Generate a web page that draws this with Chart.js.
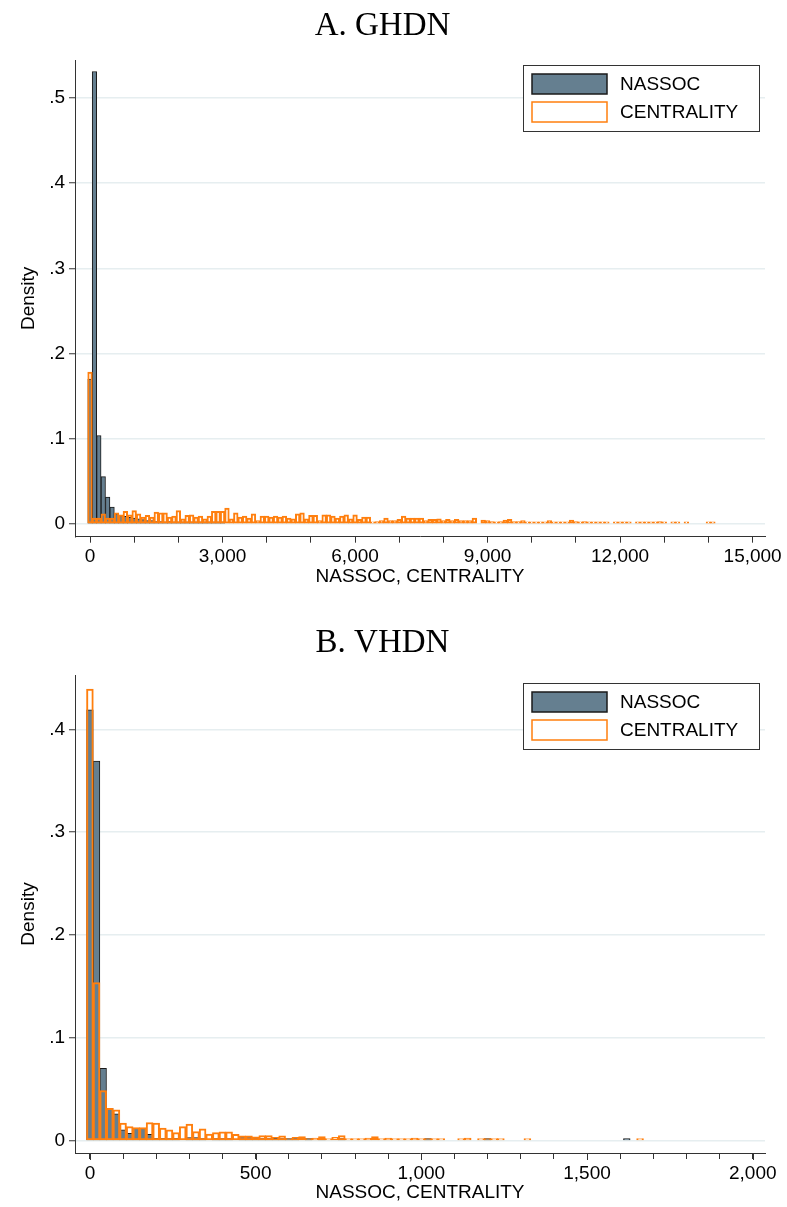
<!DOCTYPE html>
<html>
<head>
<meta charset="utf-8">
<script src="https://cdn.jsdelivr.net/npm/chart.js@4.4.1/dist/chart.umd.min.js"></script>
<style>
  body { margin: 0; background: #fff; }
  canvas { display: block; }
</style>
</head>
<body>
<canvas id="chartA" width="787" height="591"></canvas>
<canvas id="chartB" width="787" height="616"></canvas>
<script>
// Panel A (GHDN): bins of 100, first bin centred on 0
const ghdnBinWidth = 100;
const ghdnNassoc = [
  0.17, 0.531, 0.1038, 0.0556, 0.0314, 0.0196, 0.0118, 0.0098, 0.009, 0.0078,
  0.0067, 0.0059, 0.0051, 0.0039, 0.0039, 0.0027, 0.0027, 0.002, 0.0027, 0.002,
  0.0012, 0.001, 0.001, 0.0008, 0.0008, 0.0006, 0.0006, 0.0005, 0.0004, 0.0004,
  0.0003
];
const ghdnCentrality = [
  0.178, 0.0067, 0.0067, 0.0118, 0.0067, 0.0067, 0.0129, 0.0106, 0.0145, 0.0106,
  0.0156, 0.0118, 0.0078, 0.0098, 0.0078, 0.0137, 0.0129, 0.0129, 0.0078, 0.009,
  0.0156, 0.0059, 0.0098, 0.0106, 0.0078, 0.009, 0.0059, 0.009, 0.0145, 0.0145,
  0.0145, 0.0184, 0.0059, 0.0129, 0.0078, 0.009, 0.0067, 0.0118, 0.0039, 0.009,
  0.009, 0.0078, 0.009, 0.0078, 0.009, 0.0067, 0.0059, 0.0118, 0.0129, 0.0059,
  0.0098, 0.0098, 0.0039, 0.0106, 0.0106, 0.009, 0.0067, 0.009, 0.0106, 0.0059,
  0.0106, 0.0051, 0.0078, 0.0078, 0.0012, 0.0027, 0.0039, 0.0067, 0.0039, 0.0039,
  0.0051, 0.009, 0.0067, 0.0067, 0.0067, 0.0067, 0.0039, 0.0051, 0.0051, 0.0059,
  0.0039, 0.0051, 0.0039, 0.0051, 0.0039, 0.0039, 0.0039, 0.0067, 0, 0.0045,
  0.0039, 0.0027, 0.002, 0.0027, 0.0045, 0.0051, 0.0027, 0.0027, 0.0039, 0.002,
  0.002, 0.002, 0.0015, 0.002, 0.0039, 0.002, 0.0015, 0.0015, 0.002, 0.0045,
  0.0027, 0.002, 0.0027, 0.0015, 0.0015, 0.0015, 0.0015, 0.001, 0, 0.0012,
  0.002, 0.001, 0.001, 0, 0.001, 0.001, 0.001, 0.0015, 0.001, 0.0027,
  0.001, 0, 0.001, 0.001, 0, 0.001, 0, 0, 0, 0,
  0.001, 0.001
];
const ghdnTicks = [0, 1000, 2000, 3000, 4000, 5000, 6000, 7000, 8000, 9000, 10000, 11000, 12000, 13000, 14000, 15000];
const ghdnLabelled = [0, 3000, 6000, 9000, 12000, 15000];
const ghdnYTicks = [0, 0.1, 0.2, 0.3, 0.4, 0.5];

// Panel B (VHDN): bins of 20, first bin centred on 0
const vhdnBinWidth = 20;
const vhdnNassoc = [
  0.419, 0.369, 0.0704, 0.0314, 0.026, 0.0104, 0.0071, 0.012, 0.012, 0.0062,
  0.0023, 0.0023, 0.0013, 0.0023, 0, 0.003, 0.003, 0.0013, 0, 0.001,
  0.001, 0.001, 0, 0.003, 0.003, 0.003, 0.001, 0.001, 0.0023, 0.001,
  0.0013, 0.0005, 0, 0.0005, 0, 0.0005, 0, 0, 0.0005, 0,
  0, 0, 0, 0, 0, 0, 0, 0, 0, 0,
  0, 0.0008, 0, 0, 0, 0, 0, 0, 0, 0,
  0.0008, 0, 0, 0, 0, 0, 0, 0, 0, 0,
  0, 0, 0, 0, 0, 0, 0, 0, 0, 0,
  0, 0.0008
];
const vhdnCentrality = [
  0.439, 0.1536, 0.0486, 0.0314, 0.0298, 0.0169, 0.0136, 0.0126, 0.0126, 0.0175,
  0.0169, 0.012, 0.0104, 0.0078, 0.0136, 0.0159, 0.0088, 0.0113, 0.0062, 0.0078,
  0.0085, 0.0085, 0.006, 0.0045, 0.0045, 0.0035, 0.0049, 0.0049, 0.0032, 0.0045,
  0.0016, 0.0032, 0.0039, 0.0013, 0.0023, 0.0039, 0.0013, 0.0032, 0.0049, 0.0013,
  0.0008, 0.0013, 0.0023, 0.0039, 0.0013, 0.0023, 0.0013, 0.0013, 0.0013, 0.0023,
  0.0013, 0.0013, 0.0008, 0.0008, 0, 0, 0.0008, 0.0023, 0, 0.0008,
  0.0008, 0.0008, 0.0008, 0, 0, 0, 0.0008, 0, 0, 0,
  0, 0, 0, 0, 0, 0, 0, 0, 0, 0,
  0, 0, 0, 0.0008
];
const vhdnTicks = [0, 100, 200, 300, 400, 500, 600, 700, 800, 900, 1000, 1100, 1200, 1300, 1400, 1500, 1600, 1700, 1800, 1900, 2000];
const vhdnLabelled = [0, 500, 1000, 1500, 2000];
const vhdnYTicks = [0, 0.1, 0.2, 0.3, 0.4];

const seriesNames = ["NASSOC", "CENTRALITY"];

const sansFont = "'Liberation Sans', Arial, sans-serif";
const serifFont = "'Liberation Serif', 'Times New Roman', serif";
const axisColor = '#333333';

// empty bins are left out so they draw nothing
function toPoints(values, binWidth) {
  return values
    .map((v, i) => ({ x: i * binWidth, y: v }))
    .filter(p => p.y > 0);
}

// boxed legend like Stata's, drawn inside the plot region
const boxLegend = {
  id: 'boxLegend',
  afterDraw(chart, args, opts) {
    const ctx = chart.ctx;
    const x = opts.left, y = opts.top, w = 236, h = 66;
    ctx.save();
    ctx.fillStyle = '#fff';
    ctx.fillRect(x, y, w, h);
    ctx.strokeStyle = axisColor;
    ctx.lineWidth = 1;
    ctx.strokeRect(x + 0.5, y + 0.5, w, h);
    chart.data.datasets.forEach((ds, i) => {
      const sy = y + 9 + i * 28;
      ctx.fillStyle = ds.legendFill;
      ctx.fillRect(x + 9, sy, 75, 20);
      ctx.strokeStyle = ds.borderColor;
      ctx.lineWidth = 1.5;
      ctx.strokeRect(x + 9, sy, 75, 20);
      ctx.fillStyle = '#000';
      ctx.font = "19px " + sansFont;
      ctx.textBaseline = 'middle';
      ctx.fillText(ds.label, x + 97, sy + 11);
    });
    ctx.restore();
  }
};

// major ticks a bit longer than the minor ones (panel B)
const minorTicks = {
  id: 'minorTicks',
  afterDraw(chart, args, opts) {
    if (!opts.major) return;
    const sx = chart.scales.x, ctx = chart.ctx;
    ctx.save();
    ctx.strokeStyle = axisColor;
    ctx.lineWidth = 1;
    opts.major.forEach(v => {
      const px = Math.round(sx.getPixelForValue(v)) + 0.5;
      ctx.beginPath();
      ctx.moveTo(px, sx.top);
      ctx.lineTo(px, sx.top + 7);
      ctx.stroke();
    });
    ctx.restore();
  }
};

function makeChart(id, cfg) {
  const canvas = document.getElementById(id);
  return new Chart(canvas.getContext('2d'), {
    type: 'bar',
    data: {
      datasets: [{
        label: seriesNames[0],
        data: toPoints(cfg.nassoc, cfg.binWidth),
        backgroundColor: '#657f90',
        legendFill: '#657f90',
        borderColor: '#1a1a1a',
        borderWidth: 1,
        borderSkipped: false,
        inflateAmount: 0.35,
        minBarLength: 2,
        order: 2
      }, {
        label: seriesNames[1],
        data: toPoints(cfg.centrality, cfg.binWidth),
        backgroundColor: 'rgba(0,0,0,0)',
        legendFill: '#ffffff',
        borderColor: '#ff7f0e',
        borderWidth: 1.1,
        borderSkipped: false,
        inflateAmount: 0.45,
        minBarLength: 2,
        order: 1
      }]
    },
    options: {
      responsive: false,
      animation: false,
      events: [],
      grouped: false,
      barPercentage: 1,
      categoryPercentage: 1,
      layout: { padding: { left: 0, right: 22, top: 0, bottom: 0 } },
      scales: {
        x: {
          type: 'linear',
          offset: false,
          min: cfg.xMin,
          max: cfg.xMax,
          afterBuildTicks: s => { s.ticks = cfg.xTicks.map(v => ({ value: v })); },
          afterFit: s => { s.height = cfg.xHeight; },
          ticks: {
            autoSkip: false,
            maxRotation: 0,
            padding: 3,
            color: '#000',
            font: { family: sansFont, size: 19 },
            callback: v => cfg.xLabelled.includes(v) ? v.toLocaleString('en-US') : ''
          },
          grid: {
            offset: false,
            drawOnChartArea: false,
            tickLength: 6,
            tickColor: axisColor
          },
          border: { color: axisColor, width: 1 },
          title: {
            display: true,
            text: 'NASSOC, CENTRALITY',
            color: '#000',
            font: { family: sansFont, size: 19 },
            padding: { top: 0, bottom: 3 }
          }
        },
        y: {
          min: cfg.yMin,
          max: cfg.yMax,
          afterBuildTicks: s => { s.ticks = cfg.yTicks.map(v => ({ value: v })); },
          afterFit: s => { s.width = 75; },
          ticks: {
            padding: 4,
            color: '#000',
            font: { family: sansFont, size: 19 },
            callback: v => v === 0 ? '0' : String(Math.round(v * 10) / 10).replace(/^0\./, '.')
          },
          grid: {
            color: '#e6eef0',
            lineWidth: 1.5,
            tickLength: 6,
            tickColor: axisColor,
            tickWidth: 1
          },
          border: { color: axisColor, width: 1 },
          title: {
            display: true,
            text: 'Density',
            color: '#000',
            font: { family: sansFont, size: 19 },
            padding: { top: 17, bottom: 0 }
          }
        }
      },
      plugins: {
        legend: { display: false },
        tooltip: { enabled: false },
        title: {
          display: true,
          text: cfg.title,
          color: '#000',
          font: { family: serifFont, size: 33, weight: 'normal', lineHeight: 1.2 },
          padding: cfg.titlePadding
        },
        boxLegend: { left: 523, top: cfg.legendTop },
        minorTicks: { major: cfg.majorTicks }
      }
    },
    plugins: [boxLegend, minorTicks]
  });
}

makeChart('chartA', {
  title: 'A. GHDN',
  titlePadding: { top: 6.5, bottom: 13.9 },
  nassoc: ghdnNassoc,
  centrality: ghdnCentrality,
  binWidth: ghdnBinWidth,
  xMin: -340, xMax: 15280,
  xTicks: ghdnTicks,
  xLabelled: ghdnLabelled,
  xHeight: 54.3,
  yMin: -0.015, yMax: 0.5445,
  yTicks: ghdnYTicks,
  legendTop: 65,
  majorTicks: null
});

makeChart('chartB', {
  title: 'B. VHDN',
  titlePadding: { top: 33, bottom: 11.4 },
  nassoc: vhdnNassoc,
  centrality: vhdnCentrality,
  binWidth: vhdnBinWidth,
  xMin: -45, xMax: 2037,
  xTicks: vhdnTicks,
  xLabelled: vhdnLabelled,
  xHeight: 54,
  yMin: -0.012, yMax: 0.4528,
  yTicks: vhdnYTicks,
  legendTop: 92,
  majorTicks: vhdnLabelled
});
</script>
</body>
</html>
